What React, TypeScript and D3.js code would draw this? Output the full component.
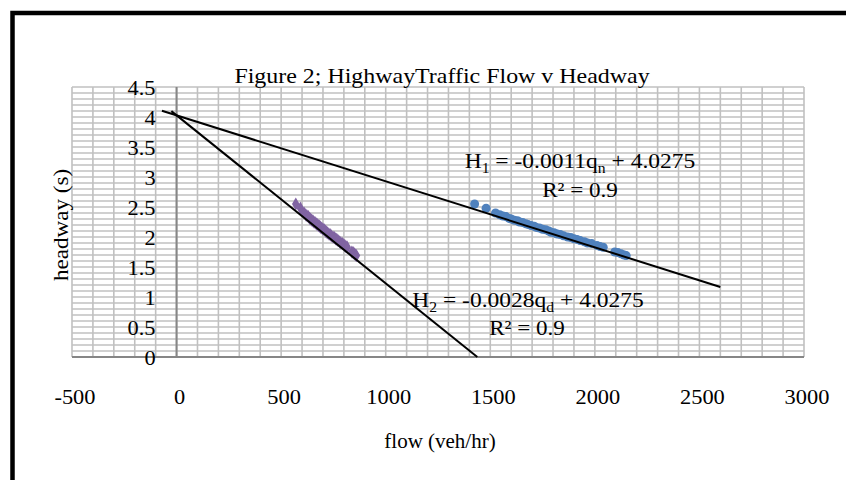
import { useEffect, useRef } from "react";
import * as d3 from "d3";

// flow (veh/hr) vs headway (s)
const flowN = [1425, 1480, 1525, 1545, 1560, 1575, 1590, 1600, 1615, 1630, 1640, 1655, 1670, 1680, 1695, 1710, 1720, 1735, 1750, 1765, 1780, 1790, 1805, 1820, 1835, 1850, 1870, 1885, 1900, 1915, 1930, 1950, 1965, 1985, 2010, 2025, 2040, 2095, 2110, 2125, 2140, 2150];
const flowD = [570, 592, 610, 618, 624, 630, 636, 640, 646, 652, 656, 662, 668, 672, 678, 684, 688, 694, 700, 706, 712, 716, 722, 728, 734, 740, 748, 754, 760, 766, 772, 780, 786, 794, 804, 810, 816, 838, 844, 850, 856, 860];
const headway = [2.55, 2.48, 2.4, 2.37, 2.35, 2.34, 2.31, 2.3, 2.28, 2.27, 2.25, 2.24, 2.22, 2.21, 2.19, 2.18, 2.16, 2.15, 2.13, 2.12, 2.1, 2.08, 2.07, 2.05, 2.04, 2.02, 2.0, 1.99, 1.97, 1.96, 1.94, 1.92, 1.9, 1.89, 1.86, 1.84, 1.83, 1.75, 1.74, 1.72, 1.7, 1.69];

// trendlines: [slope, intercept] and the flow range they are drawn over
const trendN = [-0.0011, 4.0275];
const trendD = [-0.0028, 4.0275];
const trendRangeN = [-70, 2600];
const trendRangeD = [-25, 1438];

const xTicks = [-500, 0, 500, 1000, 1500, 2000, 2500, 3000];
const yTicks = [0, 0.5, 1, 1.5, 2, 2.5, 3, 3.5, 4, 4.5];

export default function App() {
  const svgRef = useRef<SVGSVGElement>(null);

  useEffect(() => {
    document.body.style.margin = "0";
    const svg = d3.select(svgRef.current);
    svg.selectAll("*").remove();

    const width = 846, height = 480;
    const x = d3.scaleLinear().domain([-500, 3000]).range([72, 804]);
    const y = d3.scaleLinear().domain([0, 4.5]).range([357, 87]);
    const font = "'Liberation Serif', 'Times New Roman', serif";
    const sx = 1.12; // text in the original is a little wide

    svg.append("rect").attr("width", width).attr("height", height).attr("fill", "#fff");
    // outer frame (runs off the right and bottom edges)
    svg.append("rect").attr("x", 12.5).attr("y", 13).attr("width", 900).attr("height", 600)
      .attr("fill", "none").attr("stroke", "#000").attr("stroke-width", 4.5);

    const grid = svg.append("g").attr("stroke", "#c0c0c0").attr("stroke-width", 1.6);
    grid.selectAll(".v").data(x.ticks(35)).enter().append("line")
      .attr("x1", d => x(d)).attr("x2", d => x(d)).attr("y1", y(4.5)).attr("y2", y(0));
    grid.selectAll(".h").data(y.ticks(45)).enter().append("line")
      .attr("x1", x(-500)).attr("x2", x(3000)).attr("y1", d => y(d)).attr("y2", d => y(d));

    // axes
    svg.append("line").attr("x1", x(0)).attr("x2", x(0)).attr("y1", y(4.5)).attr("y2", y(0))
      .attr("stroke", "#868686").attr("stroke-width", 2);
    svg.append("line").attr("x1", x(-500)).attr("x2", x(3000)).attr("y1", y(0)).attr("y2", y(0))
      .attr("stroke", "#868686").attr("stroke-width", 2);

    const label = (tx: number, ty: number, size: number, anchor: string, s = sx) =>
      svg.append("text").attr("transform", `translate(${tx},${ty}) scale(${s},1)`)
        .attr("text-anchor", anchor).style("font-family", font).style("font-size", `${size}px`).attr("fill", "#000");

    yTicks.forEach(d => label(x(0) - 21, y(d) + 8, 20, "end").text(d));
    xTicks.forEach(d => label(x(d) + 3, 404, 20, "middle").text(d));

    const pts = flowN.map((f, i) => [f, headway[i]]);
    const ptsD = flowD.map((f, i) => [f, headway[i]]);
    svg.selectAll(".n").data(pts).enter().append("circle")
      .attr("cx", d => x(d[0])).attr("cy", d => y(d[1])).attr("r", 4.5).attr("fill", "#4F81BD");
    const diamond = d3.symbol().type(d3.symbolDiamond).size(50);
    svg.selectAll(".d").data(ptsD).enter().append("path")
      .attr("d", diamond).attr("transform", d => `translate(${x(d[0])},${y(d[1])})`).attr("fill", "#8064A2");

    const trend = (t: number[], r: number[]) => r.map(f => [f, t[0] * f + t[1]]);
    const line = d3.line<number[]>().x(d => x(d[0])).y(d => y(d[1]));
    [[trendN, trendRangeN], [trendD, trendRangeD]].forEach(([t, r]) => {
      svg.append("path").attr("d", line(trend(t, r))).attr("fill", "none")
        .attr("stroke", "#000").attr("stroke-width", 2);
    });

    const eq = (cx: number, cy: number, sub1: string, coef: string, sub2: string) => {
      const t = label(cx, cy, 21, "middle");
      t.append("tspan").text("H");
      t.append("tspan").attr("dy", 5).style("font-size", "14px").text(sub1);
      t.append("tspan").attr("dy", -5).text(` = ${coef}q`);
      t.append("tspan").attr("dy", 5).style("font-size", "14px").text(sub2);
      t.append("tspan").attr("dy", -5).text(" + 4.0275");
    };
    eq(580, 168, "1", "-0.0011", "n");
    label(580, 197, 21, "middle", 1.1).text("R² = 0.9");
    eq(528, 307, "2", "-0.0028", "d");
    label(527, 335, 21, "middle", 1.1).text("R² = 0.9");

    label(442, 83, 21, "middle", 1.14).text("Figure 2; HighwayTraffic Flow v Headway");
    label(440, 448, 21, "middle", 1).text("flow (veh/hr)");
    svg.append("text").attr("transform", "translate(68,225) rotate(-90) scale(1.1,1)").attr("text-anchor", "middle")
      .style("font-family", font).style("font-size", "21px").text("headway (s)");
  }, []);

  return <svg ref={svgRef} width={846} height={480} style={{ display: "block" }} />;
}
